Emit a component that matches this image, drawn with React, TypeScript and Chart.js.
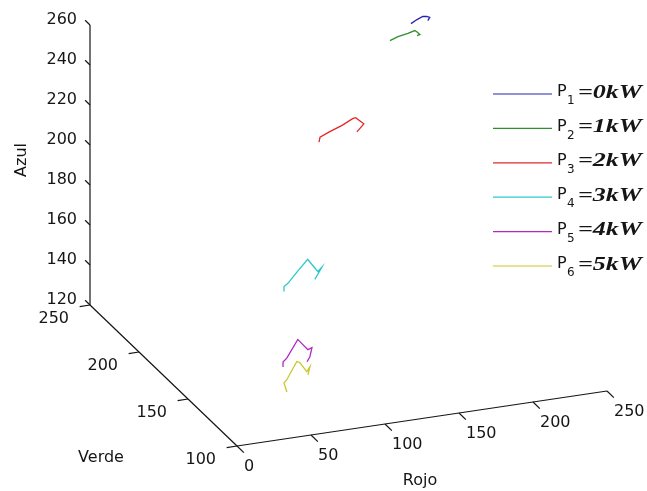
import { useEffect, useRef } from "react";
import { Chart, registerables } from "chart.js";

Chart.register(...registerables);

const W = 647;
const H = 491;

// ---- axis ranges & ticks ----
const rojoTicks = [0, 50, 100, 150, 200, 250];
const verdeTicks = [100, 150, 200, 250];
const azulTicks = [120, 140, 160, 180, 200, 220, 240, 260];
const rojoRange = [0, 250];
const verdeRange = [100, 250];
const azulRange = [120, 260];

// ---- series meta ----
const seriesSub = ["1", "2", "3", "4", "5", "6"];
const seriesPower = ["=0kW", "=1kW", "=2kW", "=3kW", "=4kW", "=5kW"];
const seriesColors = ["#2424b4", "#2f8f2f", "#e22828", "#2cc8c8", "#b028c0", "#c8c828"];

// ---- data (Rojo, Verde, Azul) ----
const rojo1 = [197.0, 201.1, 205.1, 207.8, 209.9, 208.5];
const verde1 = [220, 220, 220.2, 220.3, 220.3, 220.2];
const azul1 = [253.1, 254.7, 255.7, 255.4, 254.7, 253.3];

const rojo2 = [176.2, 181.6, 188.4, 193.1, 195.1, 196.5, 194.5];
const verde2 = [210, 210, 210.1, 210.2, 210.2, 210.1, 210];
const azul2 = [251.6, 253.0, 253.8, 254.7, 253.5, 252.4, 252.1];

const rojo3 = [115.0, 115.7, 122.4, 130.5, 138.0, 140.0, 142.7, 145.4, 140.7];
const verde3 = [190, 190, 190.2, 190.3, 190.4, 190.4, 190.3, 190.2, 190.1];
const azul3 = [217.0, 219.4, 221.3, 223.4, 226.0, 226.3, 224.5, 222.7, 219.2];

const rojo4 = [71.5, 71.5, 74.2, 80.9, 87.7, 90.4, 94.5, 97.2, 92.4];
const verde4 = [160, 160, 160.1, 160.2, 160.3, 160.3, 160.2, 160.2, 160.1];
const azul4 = [161.2, 163.7, 164.9, 170.2, 175.4, 172.6, 168.6, 170.4, 164.9];

const rojo5 = [57.6, 57.6, 60.3, 67.7, 69.1, 74.5, 77.2, 75.8, 73.8];
const verde5 = [140, 140, 140.1, 140.2, 140.2, 140.2, 140.1, 140.1, 140];
const azul5 = [134.4, 136.9, 138.6, 146.9, 145.7, 141.1, 141.8, 137.4, 135.2];

const rojo6 = [53.6, 51.6, 53.6, 60.4, 62.4, 67.2, 69.2, 67.9];
const verde6 = [130, 130, 130.1, 130.2, 130.2, 130.2, 130.1, 130.1];
const azul6 = [127.0, 131.8, 133.1, 141.4, 140.7, 135.6, 137.9, 134.0];

const seriesR = [rojo1, rojo2, rojo3, rojo4, rojo5, rojo6];
const seriesG = [verde1, verde2, verde3, verde4, verde5, verde6];
const seriesB = [azul1, azul2, azul3, azul4, azul5, azul6];

// ---- 3D view (fixed camera, linear projection onto the 2D plane) ----
const VIEW = {
  ox: 237, oy: 446, // image of (rojo min, verde min, azul min)
  rx: 1.48, ry: -0.22, // per Rojo unit
  gx: -0.98, gy: -0.94, // per Verde unit
  by: -2.0, // per Azul unit
};

function project(r: number, g: number, b: number) {
  const dr = r - rojoRange[0];
  const dg = g - verdeRange[0];
  const db = b - azulRange[0];
  return {
    x: VIEW.ox + dr * VIEW.rx + dg * VIEW.gx,
    y: VIEW.oy + dr * VIEW.ry + dg * VIEW.gy + db * VIEW.by,
  };
}

const SANS = '"DejaVu Sans", "Liberation Sans", sans-serif';

const axes3dPlugin = {
  id: "axes3d",
  afterDatasetsDraw(chart: any) {
    const ctx: CanvasRenderingContext2D = chart.ctx;
    const sx = chart.scales.x;
    const sy = chart.scales.y;
    const P = (r: number, g: number, b: number): [number, number] => {
      const p = project(r, g, b);
      return [sx.getPixelForValue(p.x), sy.getPixelForValue(p.y)];
    };
    const seg = (a: [number, number], c: [number, number]) => {
      ctx.beginPath();
      ctx.moveTo(a[0], a[1]);
      ctx.lineTo(c[0], c[1]);
      ctx.stroke();
    };
    ctx.save();
    ctx.strokeStyle = "#151515";
    ctx.fillStyle = "#151515";
    ctx.lineWidth = 1.2;
    ctx.font = "16px " + SANS;

    const r0 = rojoRange[0], g0 = verdeRange[0], g1 = verdeRange[1], b0 = azulRange[0];

    // Rojo axis (front edge)
    seg(P(rojoRange[0], g0, b0), P(rojoRange[1], g0, b0));
    ctx.textAlign = "left";
    ctx.textBaseline = "middle";
    for (const t of rojoTicks) {
      const a = P(t, g0, b0);
      seg(a, P(t, g0 - 7, b0));
      ctx.fillText(String(t), a[0] + 7, a[1] + 21);
    }
    // Verde axis (left edge)
    seg(P(r0, verdeRange[0], b0), P(r0, verdeRange[1], b0));
    ctx.textAlign = "right";
    for (const t of verdeTicks) {
      const a = P(r0, t, b0);
      seg(a, P(r0 - 7, t, b0));
      ctx.fillText(String(t), a[0] - 21, a[1] + 14);
    }
    // Azul axis (vertical)
    seg(P(r0, g1, azulRange[0]), P(r0, g1, azulRange[1]));
    for (const t of azulTicks) {
      const a = P(r0, g1, t);
      seg(a, P(r0, g1 + 5, t));
      ctx.fillText(String(t), a[0] - 13, a[1] - 5);
    }

    // axis titles
    ctx.textAlign = "center";
    ctx.fillText("Rojo", 420, 481);
    ctx.fillText("Verde", 101, 458);
    ctx.save();
    ctx.translate(22, 160);
    ctx.rotate(-Math.PI / 2);
    ctx.fillText("Azul", 0, 0);
    ctx.restore();

    // legend
    chart.data.datasets.forEach((ds: any, i: number) => {
      const y = 94 + i * 34.4;
      ctx.strokeStyle = ds.borderColor;
      ctx.lineWidth = 1.2;
      seg([493, y], [552, y]);
      ctx.fillStyle = "#151515";
      ctx.textAlign = "left";
      ctx.font = "16px " + SANS;
      ctx.fillText("P", 557, y - 2);
      ctx.font = "12px " + SANS;
      ctx.fillText(seriesSub[i], 567, y + 7);
      ctx.font = 'italic bold 18px "Liberation Serif", "DejaVu Serif", serif';
      const txt = seriesPower[i];
      const w = ctx.measureText(txt).width;
      const target = 64;
      ctx.save();
      ctx.translate(578, y - 1);
      ctx.scale(Math.max(1, target / w), 1);
      ctx.fillText(txt, 0, 0);
      ctx.restore();
    });
    ctx.restore();
  },
};

export default function App() {
  const ref = useRef<HTMLCanvasElement | null>(null);
  useEffect(() => {
    if (!ref.current) return;
    const datasets = seriesR.map((rs, i) => ({
      label: "P" + seriesSub[i] + " " + seriesPower[i],
      data: rs.map((r, k) => project(r, seriesG[i][k], seriesB[i][k])),
      showLine: true,
      borderColor: seriesColors[i],
      backgroundColor: seriesColors[i],
      borderWidth: 1.3,
      pointRadius: 0,
      tension: 0,
    }));
    const chart = new Chart(ref.current, {
      type: "scatter",
      data: { datasets },
      options: {
        responsive: false,
        animation: false,
        layout: { padding: 0 },
        scales: {
          x: { type: "linear", min: 0, max: W, display: false },
          y: { type: "linear", min: 0, max: H, reverse: true, display: false },
        },
        plugins: { legend: { display: false }, tooltip: { enabled: false } },
      },
      plugins: [axes3dPlugin],
    } as any);
    return () => chart.destroy();
  }, []);
  return (
    <div style={{ position: "absolute", left: 0, top: 0, width: W, height: H, background: "#fff" }}>
      <canvas ref={ref} width={W} height={H} style={{ display: "block" }} />
    </div>
  );
}
